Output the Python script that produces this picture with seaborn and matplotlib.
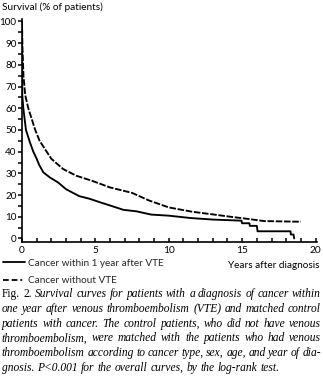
import matplotlib
matplotlib.use("Agg")
import matplotlib.pyplot as plt
from matplotlib.lines import Line2D
from matplotlib.ticker import MultipleLocator
import numpy as np
import pandas as pd
import seaborn as sns

# Kaplan-Meier style survival estimates (years after diagnosis, % surviving)
vte_years = [0, 0.01, 0.02, 0.09, 0.27, 0.54, 0.77, 1.0, 1.17, 1.45, 1.9, 2.46,
             3.0, 3.9, 4.6, 5.3, 6.0, 6.9, 7.8, 8.8, 10.0, 11.5, 13.0, 14.95,
             15.0, 15.5, 15.52, 16.0, 16.05, 18.3, 18.32, 18.5, 18.55]
vte_surv = [100, 85, 66, 60, 50, 44.3, 40, 36.7, 33.9, 30.5, 28.1, 25.8,
            22.7, 19.5, 18.3, 16.7, 15.2, 13.2, 12.5, 11.0, 10.5, 9.4, 8.7, 8.2,
            7.0, 7.0, 5.8, 5.8, 3.3, 3.3, 1.8, 1.8, 0]

ctrl_years = [0, 0.03, 0.1, 0.22, 0.43, 0.9, 1.2, 1.68, 2.0, 2.8, 3.7, 4.8,
              6.0, 7.5, 8.65, 10.0, 11.6, 13.1, 14.2, 15.4, 16.5, 19.0]
ctrl_surv = [100, 88, 75, 66, 60, 50, 45, 40, 36.7, 32.0, 28.9, 26.5,
             23.5, 21.0, 17.5, 14.3, 12.3, 11.0, 10.0, 9.0, 8.0, 7.7]

group_labels = ["Cancer within 1 year after VTE", "Cancer without VTE"]

df = pd.concat([
    pd.DataFrame({"years": vte_years, "survival": vte_surv, "group": group_labels[0]}),
    pd.DataFrame({"years": ctrl_years, "survival": ctrl_surv, "group": group_labels[1]}),
], ignore_index=True)

sns.set_theme(style="ticks")
plt.rcParams["font.family"] = ["Lato", "DejaVu Sans"]

W, H = 323, 376
fig = plt.figure(figsize=(W / 100, H / 100), dpi=100)
ax = fig.add_axes([22 / W, 1 - 241.7 / H, (317 - 22) / W, (241.7 - 19.3) / H])

sns.lineplot(data=df, x="years", y="survival", style="group",
             dashes={group_labels[0]: "", group_labels[1]: (3.5, 0.9)},
             color="black", linewidth=1.35, estimator=None, sort=False,
             legend=False, ax=ax)

ax.set_xlim(0, 20.1)
ax.set_ylim(-1.5, 101)
ax.set_xlabel("")
ax.set_ylabel("")
for side in ("top", "right"):
    ax.spines[side].set_visible(False)
for side in ("left", "bottom"):
    ax.spines[side].set_linewidth(1.2)
    ax.spines[side].set_color("black")

ax.set_yticks(np.arange(0, 101, 10))
ax.yaxis.set_minor_locator(MultipleLocator(5))
ax.set_xticks([0, 5, 10, 15, 20])
ax.xaxis.set_minor_locator(MultipleLocator(1))
ax.tick_params(axis="y", which="both", direction="out", length=3.0, width=1.1,
               labelsize=7.1, pad=1, colors="black")
ax.tick_params(axis="x", which="both", direction="in", length=3.0, width=1.1,
               labelsize=7.3, pad=3, colors="black")

fig.text(2 / W, 1 - 7 / H, "Survival (% of patients)", fontsize=7.2,
         ha="left", va="center", color="black")
fig.text(319 / W, 1 - 265 / H, "Years after diagnosis", fontsize=7.2,
         ha="right", va="center", color="black")

# Legend below the plot
handles = [Line2D([], [], color="black", lw=1.3),
           Line2D([], [], color="black", lw=1.3, dashes=(3.2, 1.6, 3.2, 1.6, 1.0, 1.6))]
fig.legend(handles, group_labels, loc="upper left",
           bbox_to_anchor=(3 / W, 1 - 258.5 / H), frameon=False, fontsize=7.2,
           handlelength=2.2, handletextpad=0.35, labelspacing=0.85,
           borderpad=0, borderaxespad=0)

# Caption, justified between the margins
caption = [
    [("Fig. 2.", "normal"), ("Survival curves for patients with a diagnosis of cancer within", "italic")],
    [("one year after venous thromboembolism (VTE) and matched control", "italic")],
    [("patients with cancer. The control patients, who did not have venous", "italic")],
    [("thromboembolism, were matched with the patients who had venous", "italic")],
    [("thromboembolism according to cancer type, sex, age, and year of dia-", "italic")],
    [("gnosis. P<0.001 for the overall curves, by the log-rank test.", "italic")],
]
x0, x1 = 2, 321
y_first, dy = 294, 14.8
fig.canvas.draw()
renderer = fig.canvas.get_renderer()
for i, line in enumerate(caption):
    y = 1 - (y_first + i * dy) / H
    words = []
    for chunk, style in line:
        for w in chunk.split(" "):
            words.append((w, style))
    texts = [fig.text(0, y, w, fontsize=8.3, family="Liberation Serif",
                      style=st, ha="left", va="center", color="black")
             for w, st in words]
    widths = [t.get_window_extent(renderer).width for t in texts]
    total = sum(widths)
    if i < len(caption) - 1:
        gap = (x1 - x0 - total) / (len(texts) - 1)
    else:
        gap = 3.0
    x = x0
    for t, wd in zip(texts, widths):
        t.set_x(x / W)
        x += wd + gap

fig.savefig("out.png", dpi=100, facecolor="white")
